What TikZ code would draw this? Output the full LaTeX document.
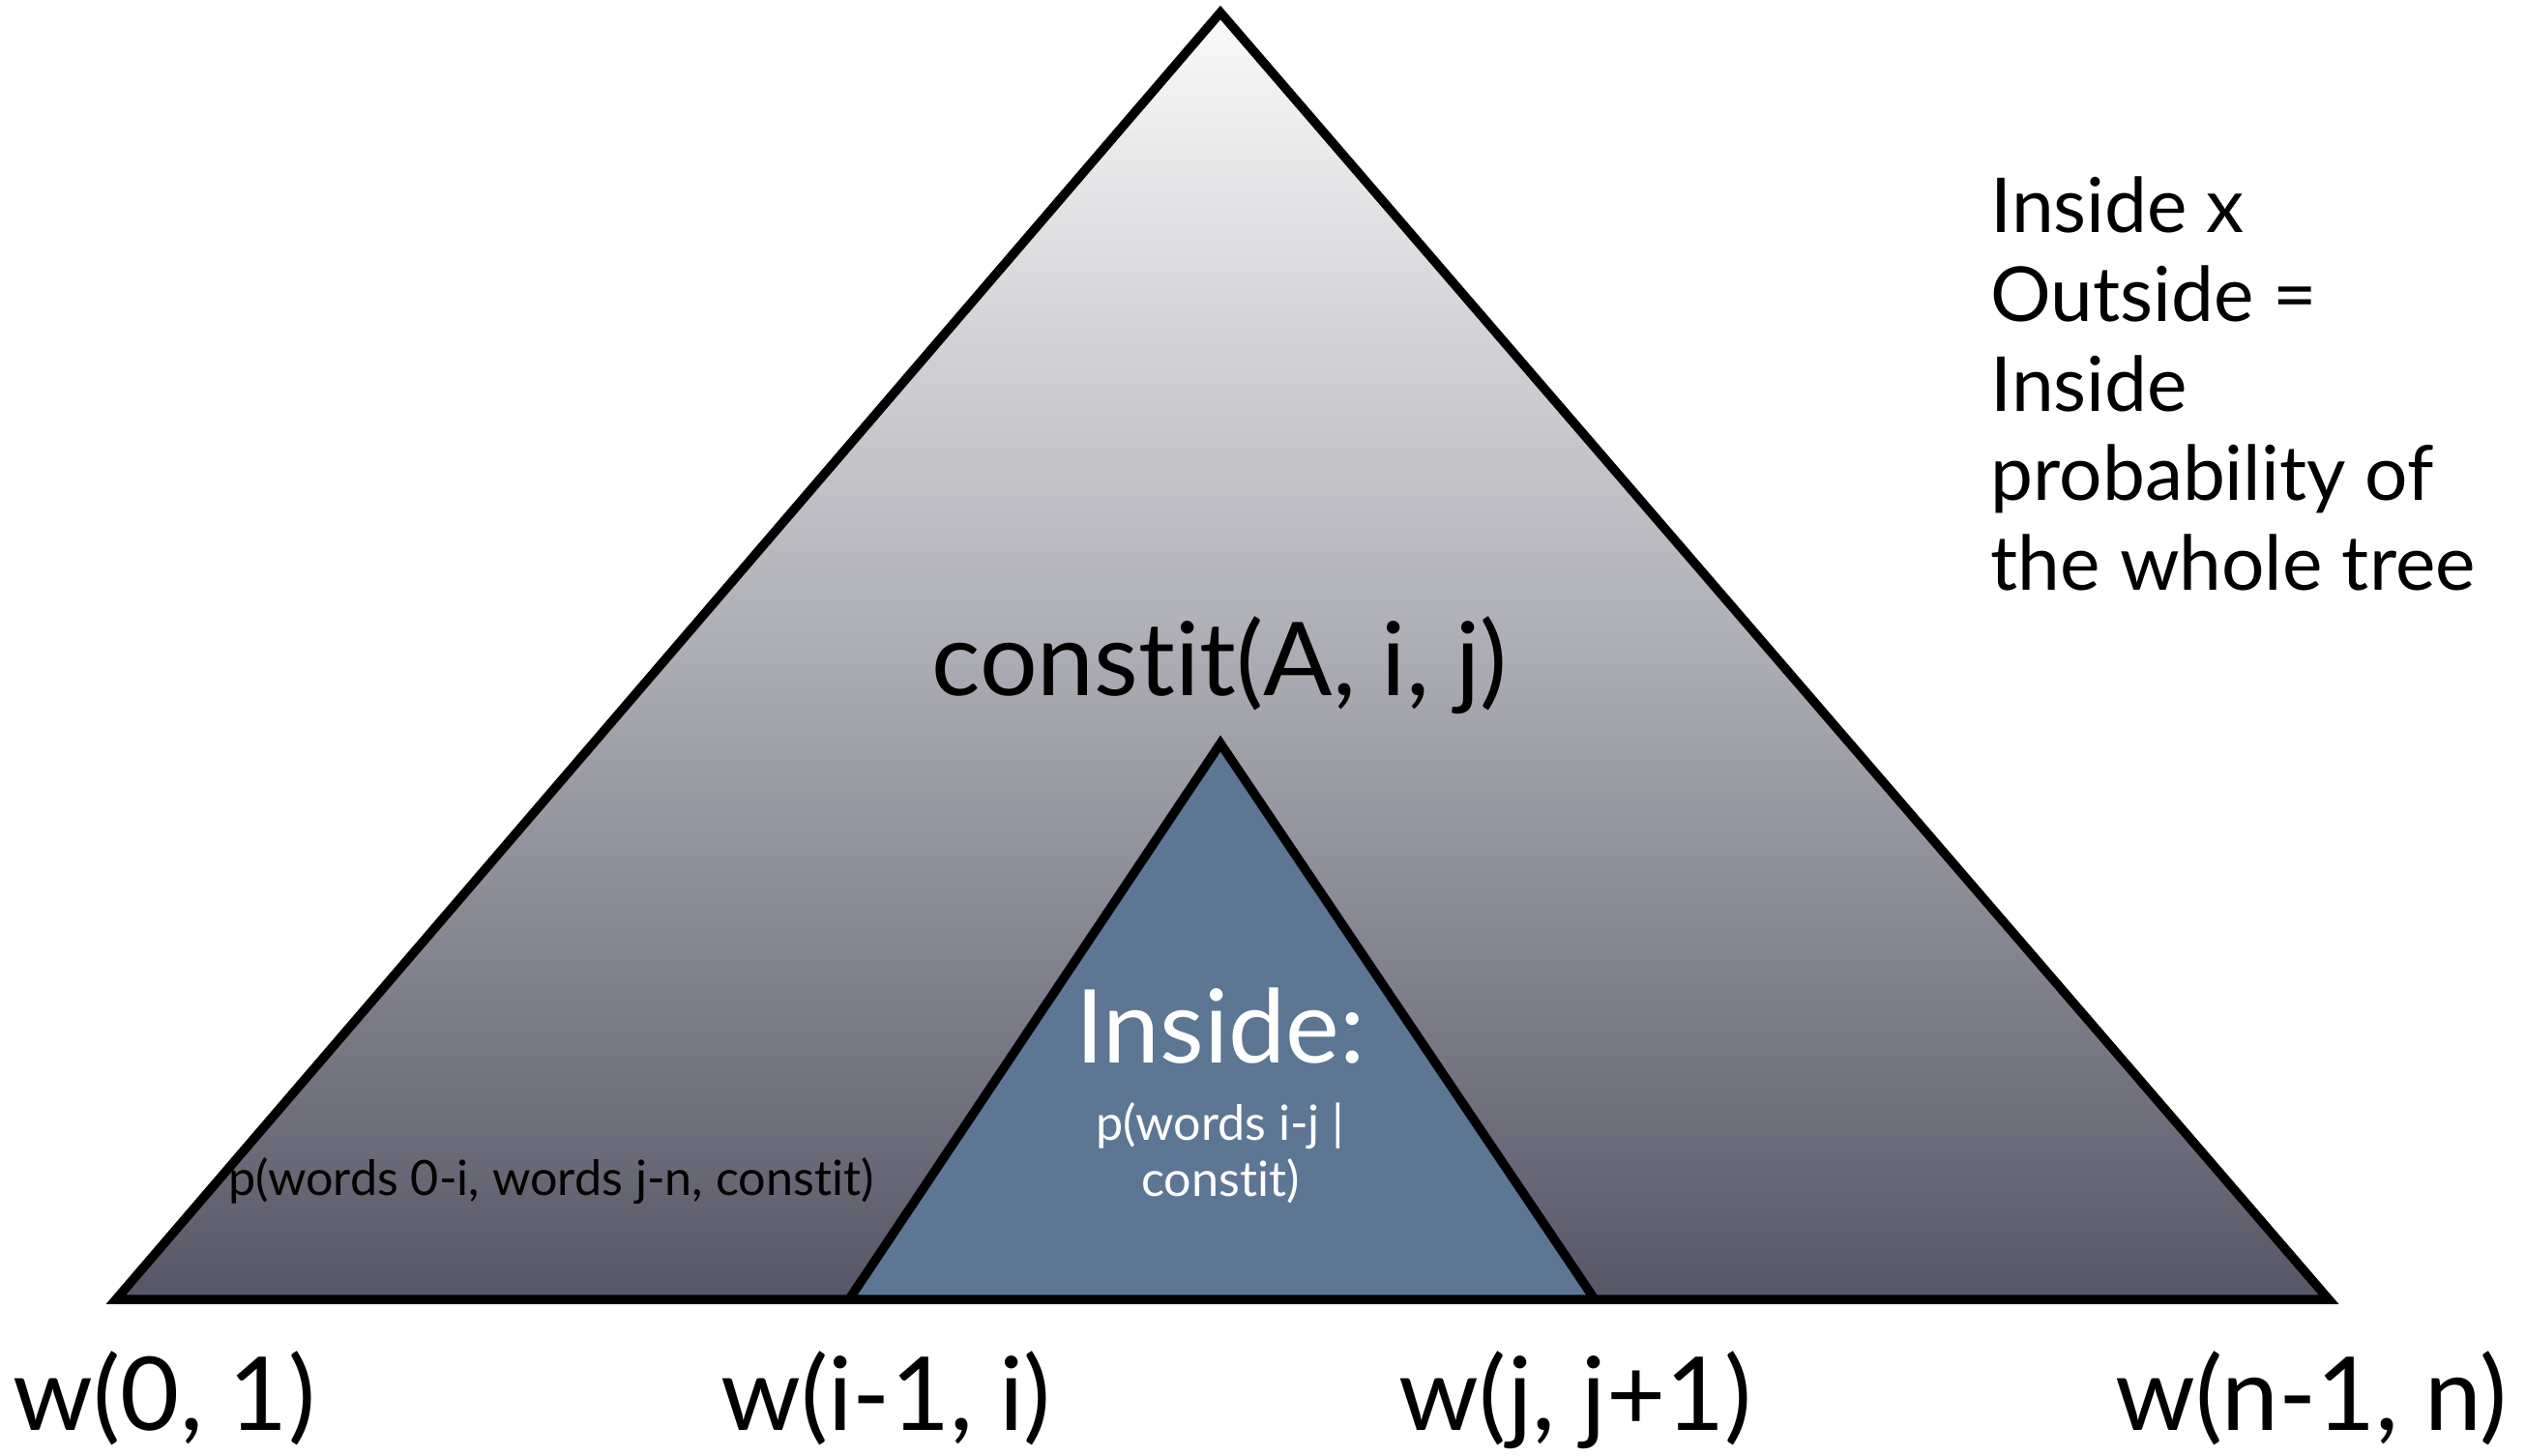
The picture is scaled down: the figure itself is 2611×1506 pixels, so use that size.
\documentclass[tikz,border=0pt]{standalone}
\usepackage{fontspec}
\setmainfont[Ligatures={NoCommon}]{Lato}
\begin{document}
\begin{tikzpicture}[x=0.01cm,y=-0.01cm,
  lbl/.style={inner sep=0pt, anchor=base, font=\fontsize{30}{36}\selectfont},
  small/.style={inner sep=0pt, anchor=base, font=\fontsize{14.3}{16.5}\selectfont},
  side/.style={inner sep=0pt, anchor=base west, align=left, font=\fontsize{22.3}{26.3}\selectfont}]
\useasboundingbox[fill=white] (0,0) rectangle (2611,1506);
\definecolor{topc}{RGB}{250,250,250}
\definecolor{midc}{RGB}{172,172,180}
\definecolor{botc}{RGB}{86,86,102}
\definecolor{innerc}{RGB}{92,118,148}
\coordinate (apex) at (1262,13);
\coordinate (bl) at (120,1344);
\coordinate (br) at (2408,1344);
\coordinate (iapex) at (1262,769);
\coordinate (ibl) at (878,1344);
\coordinate (ibr) at (1649,1344);
\draw[line width=2.7pt, line join=miter, top color=topc, bottom color=botc, middle color=midc]
  (apex) -- (br) -- (bl) -- cycle;
\draw[line width=2.7pt, line join=miter, fill=innerc] (iapex) -- (ibr) -- (ibl) -- cycle;
\node[lbl] (w0) at (170,1479) {w(0, 1)};
\node[lbl] (wi) at (916,1479) {w(i-1, i)};
\node[lbl] (wj) at (1629,1479) {w(j, j+1)};
\node[lbl] (wn) at (2390,1479) {w(n-1, n)};
\node[lbl] (constit) at (1261,719) {constit(A, i, j)};
\node[lbl, text=white] (inside) at (1262,1099) {Inside:};
\node[small, text=white, align=center, anchor=north] (insidep) at (1262,1140) {p(words i-j |\\constit)};
\node[small] (outside) at (570,1236) {p(words 0-i, words j-n, constit)};
\node[side, anchor=north west] (note) at (2058,182) {Inside x\\Outside =\\Inside\\probability of\\the whole tree};
\end{tikzpicture}
\end{document}
